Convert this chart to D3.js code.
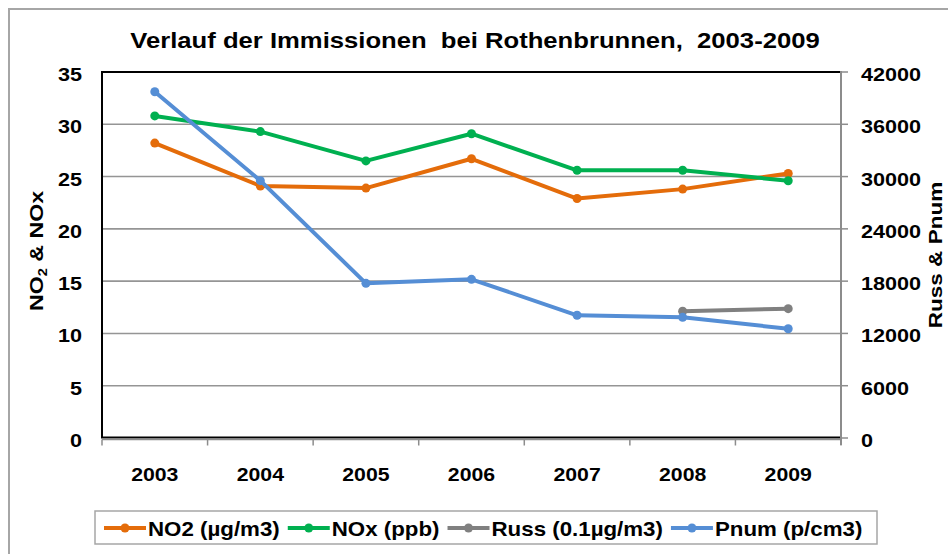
<!DOCTYPE html>
<html>
<head>
<meta charset="utf-8">
<script src="https://cdn.jsdelivr.net/npm/d3@7"></script>
<style>
  html, body { margin: 0; padding: 0; background: #fff; }
  svg { display: block; }
  text { font-family: "Liberation Sans", Arial, sans-serif; font-weight: bold; fill: #000; }
</style>
</head>
<body>
<svg id="chart" width="948" height="554"></svg>
<script>
// ---- data ----
const years = ["2003", "2004", "2005", "2006", "2007", "2008", "2009"];
const no2  = [28.2, 24.1, 23.9, 26.7, 22.9, 23.8, 25.3];
const nox  = [30.8, 29.3, 26.5, 29.1, 25.6, 25.6, 24.6];
const russ = [null, null, null, null, null, 14540, 14840];
const pnum = [39740, 29530, 17750, 18210, 14080, 13850, 12540];
const leftTicks  = [0, 5, 10, 15, 20, 25, 30, 35];
const rightTicks = [0, 6000, 12000, 18000, 24000, 30000, 36000, 42000];
const seriesNames  = ["NO2 (µg/m3)", "NOx (ppb)", "Russ (0.1µg/m3)", "Pnum (p/cm3)"];
const seriesColors = ["#E46C0A", "#00B050", "#808080", "#558ED5"];
const title = "Verlauf der Immissionen  bei Rothenbrunnen,  2003-2009";

// ---- layout ----
const SX = 1.15;
const L = 102, R = 841, T = 72, B = 438;
const svg = d3.select("#chart");

const x = d3.scaleBand().domain(years).range([L, R]).padding(0);
const cx = d => x(d) + x.bandwidth() / 2;
const yL = d3.scaleLinear().domain([0, 35]).range([B, T]);
const yR = d3.scaleLinear().domain([0, 42000]).range([B, T]);

function stext(g, tx, ty, str, size, anchor) {
  return g.append("text")
    .attr("transform", `translate(${tx},${ty}) scale(${SX},1)`)
    .attr("text-anchor", anchor || "start")
    .style("font-size", size + "px")
    .attr("xml:space", "preserve")
    .text(str);
}

// outer chart border
svg.append("rect").attr("x", 9).attr("y", 9).attr("width", 960).attr("height", 560)
  .attr("fill", "none").attr("stroke", "#A6A6A6").attr("stroke-width", 2);

// title
stext(svg, 475, 48, title, 22.3, "middle");

// gridlines
svg.append("g").selectAll("line").data(leftTicks.filter(t => t > 0 && t < 35)).join("line")
  .attr("x1", L).attr("x2", R).attr("y1", d => yL(d)).attr("y2", d => yL(d))
  .attr("stroke", "#959595").attr("stroke-width", 1.6);

// plot border (black) left/top/bottom
svg.append("path")
  .attr("d", `M${R},${T}H${L}V${B - 0.5}H${R}`)
  .attr("fill", "none").attr("stroke", "#000").attr("stroke-width", 2);

// bottom category axis (gray) with ticks
const xAxisG = svg.append("g").attr("transform", `translate(0,${B + 1.5})`);
xAxisG.append("line").attr("x1", L).attr("x2", R).attr("stroke", "#8C8C8C").attr("stroke-width", 1.5);
xAxisG.selectAll("line.tk").data(years.concat(["end"])).join("line").attr("class", "tk")
  .attr("x1", (d, i) => i < years.length ? x(d) : R)
  .attr("x2", (d, i) => i < years.length ? x(d) : R)
  .attr("y1", 0).attr("y2", 6).attr("stroke", "#8C8C8C").attr("stroke-width", 1.5);
years.forEach(yr => stext(svg, cx(yr), 481, yr, 18.5, "middle"));

// left axis labels
leftTicks.forEach(t => stext(svg, 82, yL(t) + 9, String(t), 18.8, "end"));

// right axis line + ticks (gray)
svg.append("line").attr("x1", R).attr("x2", R).attr("y1", T - 1).attr("y2", B + 7)
  .attr("stroke", "#8C8C8C").attr("stroke-width", 2);
svg.append("g").selectAll("line").data(rightTicks).join("line")
  .attr("x1", R).attr("x2", R + 7).attr("y1", d => yR(d)).attr("y2", d => yR(d))
  .attr("stroke", "#8C8C8C").attr("stroke-width", 1.5);
rightTicks.forEach(t => stext(svg, 861, yR(t) + 9, String(t), 18.8, "start"));

// axis titles
const lt = svg.append("text")
  .attr("transform", `translate(43,251) rotate(-90) scale(1.22,1)`)
  .attr("text-anchor", "middle").style("font-size", "19px");
lt.append("tspan").text("NO");
lt.append("tspan").attr("dy", 4).style("font-size", "12px").text("2");
lt.append("tspan").attr("dy", -4).text(" & NOx");

svg.append("text")
  .attr("transform", `translate(942,255) rotate(-90) scale(1.22,1)`)
  .attr("text-anchor", "middle").style("font-size", "18.5px")
  .text("Russ & Pnum");

// series
const series = [
  { vals: no2, y: yL }, { vals: nox, y: yL },
  { vals: russ, y: yR }, { vals: pnum, y: yR }
];
series.forEach((s, si) => {
  const pts = years.map((yr, i) => ({ yr, v: s.vals[i] }));
  const line = d3.line().defined(d => d.v != null).x(d => cx(d.yr)).y(d => s.y(d.v));
  const g = svg.append("g");
  g.append("path").attr("d", line(pts)).attr("fill", "none")
    .attr("stroke", seriesColors[si]).attr("stroke-width", 4).attr("stroke-linejoin", "round");
  g.selectAll("circle").data(pts.filter(d => d.v != null)).join("circle")
    .attr("cx", d => cx(d.yr)).attr("cy", d => s.y(d.v)).attr("r", 4.5)
    .attr("fill", seriesColors[si]);
});

// legend
const lg = svg.append("g");
lg.append("rect").attr("x", 95).attr("y", 511).attr("width", 782).attr("height", 33)
  .attr("fill", "#fff").attr("stroke", "#A6A6A6").attr("stroke-width", 1.5);
let lx = 104;
const ly = 528;
seriesNames.forEach((name, i) => {
  lg.append("line").attr("x1", lx).attr("x2", lx + 42).attr("y1", ly).attr("y2", ly)
    .attr("stroke", seriesColors[i]).attr("stroke-width", 4);
  lg.append("circle").attr("cx", lx + 21).attr("cy", ly).attr("r", 4.5).attr("fill", seriesColors[i]);
  const t = stext(lg, lx + 44, ly + 7.5, name, 19.4, "start");
  const w = t.node().getComputedTextLength() * SX;
  lx = lx + 44 + w + 8;
});
</script>
</body>
</html>
